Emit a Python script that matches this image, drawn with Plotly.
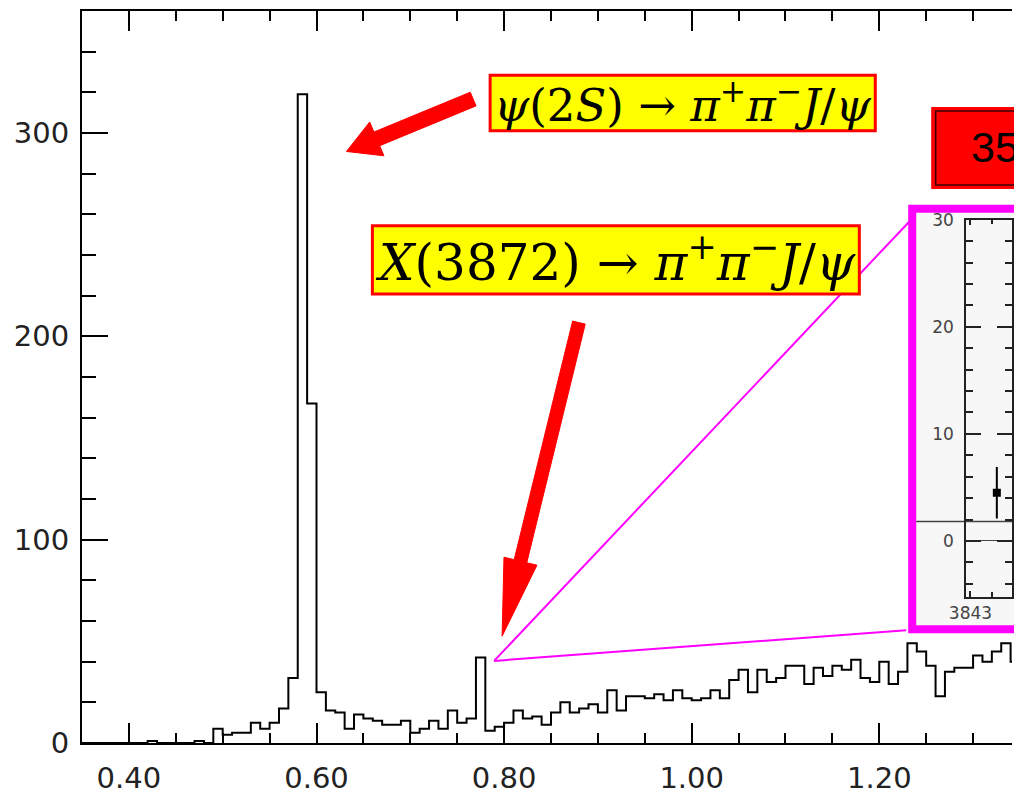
import plotly.graph_objects as go
import numpy as np

# ---------------- data ----------------
bin_start = 0.35
bin_width = 0.01
counts = [0, 0, 0, 0, 0, 0, 0, 1, 0, 0, 0, 0, 1, 0, 7,
          4, 5, 5, 10, 7, 10, 17, 32, 319, 167,
          25, 16, 15, 7, 14, 12, 11, 9, 9, 11,
          5, 7, 11, 7, 16, 10, 12, 42, 6, 8,
          10, 16, 12, 13, 9, 15, 20, 15, 17, 19,
          15, 26, 16, 23, 23, 22, 24, 21, 26, 22,
          21, 22, 26, 22, 31, 36, 25, 36, 30, 32,
          38, 38, 29, 37, 33, 38, 36, 41, 32, 30,
          40, 29, 35, 49, 45, 38, 23, 35, 37, 37,
          43, 40, 45, 49, 40]
x_tick_vals = [0.40, 0.60, 0.80, 1.00, 1.20]
y_tick_vals = [0, 100, 200, 300]

inset_x = [3844.2]
inset_y = [4.5]
inset_err = [2.4]
inset_bkg_level = 1.9

label_psi = "<i>ψ</i>(2<i>S</i>) → <i>π</i><sup>+</sup><i>π</i><sup>−</sup><i>J</i>/<i>ψ</i>"
label_x = "<i>X</i>(3872) → <i>π</i><sup>+</sup><i>π</i><sup>−</sup><i>J</i>/<i>ψ</i>"
label_box = "35"

# ---------------- geometry helpers (pixel -> paper) ----------------
FIG_W, FIG_H = 1014, 795
L, T, W, H = 82, 11, 932, 740
X_LO = 0.35
X_HI = 0.35 + W / 940  # 940 px per unit on the original axis


def px(X):
    return (X - L) / W


def py(Y):
    return (T + H - Y) / H


def arrow_path(tail, tip, shaft_w, head_len, head_w):
    tx, ty = tail
    hx, hy = tip
    d = np.hypot(hx - tx, hy - ty)
    ux, uy = (hx - tx) / d, (hy - ty) / d
    nx, ny = -uy, ux
    bx, by = hx - ux * head_len, hy - uy * head_len
    pts = [
        (tx + nx * shaft_w / 2, ty + ny * shaft_w / 2),
        (bx + nx * shaft_w / 2, by + ny * shaft_w / 2),
        (bx + nx * head_w / 2, by + ny * head_w / 2),
        (hx, hy),
        (bx - nx * head_w / 2, by - ny * head_w / 2),
        (bx - nx * shaft_w / 2, by - ny * shaft_w / 2),
        (tx - nx * shaft_w / 2, ty - ny * shaft_w / 2),
    ]
    return "M " + " L ".join(f"{px(a):.5f},{py(b):.5f}" for a, b in pts) + " Z"


# ---------------- histogram ----------------
edges = [round(bin_start + i * bin_width, 4) for i in range(len(counts) + 1)]
xs = edges
ys = counts + [counts[-1]]

fig = go.Figure()
fig.add_trace(go.Scatter(x=xs, y=ys, mode="lines", line=dict(color="black", width=2, shape="hv"),
                         hoverinfo="skip", showlegend=False))

# inset data
fig.add_trace(go.Scatter(x=inset_x, y=inset_y, mode="markers", xaxis="x2", yaxis="y2",
                         marker=dict(symbol="square", size=8, color="black"),
                         error_y=dict(type="data", array=inset_err, color="black", thickness=2, width=0),
                         showlegend=False, hoverinfo="skip"))

tickfont = dict(family="DejaVu Sans", size=29, color="#222")
insetfont = dict(family="DejaVu Sans", size=17, color="#444")
fig.update_layout(
    width=FIG_W, height=FIG_H,
    margin=dict(l=L, r=0, t=T, b=FIG_H - T - H),
    paper_bgcolor="white", plot_bgcolor="rgba(0,0,0,0)",
    showlegend=False,
    xaxis=dict(range=[X_LO, X_HI], domain=[0, 1], showline=True, linecolor="black", linewidth=2,
               mirror="ticks", ticks="inside", ticklen=20, tickwidth=2, tickcolor="black",
               tickvals=x_tick_vals, ticktext=[f"{v:.2f}" for v in x_tick_vals],
               minor=dict(ticks="inside", ticklen=10, tickwidth=2, dtick=0.05, tick0=0.35, tickcolor="black"),
               showgrid=False, zeroline=False, tickfont=tickfont, ticklabelstandoff=8),
    yaxis=dict(range=[0, 360], domain=[0, 1], showline=True, linecolor="black", linewidth=2,
               mirror=False, ticks="inside", ticklen=26, tickwidth=2, tickcolor="black",
               tickvals=y_tick_vals,
               minor=dict(ticks="inside", ticklen=14, tickwidth=2, dtick=20, tick0=0, tickcolor="black"),
               showgrid=False, zeroline=False, tickfont=tickfont, ticklabelstandoff=5),
    xaxis2=dict(anchor="y2", domain=[px(968), 1], range=[3842.8, 3842.8 + 46 / 22],
                showline=True, linecolor="#222", linewidth=1.5, mirror="ticks",
                ticks="inside", ticklen=6, tickwidth=1.5, tickcolor="#222",
                tickvals=[3843], ticktext=["3843"],
                minor=dict(ticks="inside", ticklen=5, dtick=1, tick0=3843, tickcolor="#222"),
                showgrid=False, zeroline=False,
                tickfont=insetfont, ticklabelstandoff=0),
    yaxis2=dict(anchor="x2", domain=[py(603), py(222)], range=[-5.2, 30],
                showline=True, linecolor="#222", linewidth=1.5, mirror="ticks",
                ticks="inside", ticklen=15, tickwidth=1.5, tickcolor="#222",
                tickvals=[0, 10, 20, 30],
                minor=dict(ticks="inside", ticklen=7, dtick=2, tick0=0, tickcolor="#222"),
                showgrid=False, zeroline=True, zerolinecolor="#444", zerolinewidth=1.2,
                tickfont=insetfont, ticklabelstandoff=7),
)

shapes = []
# inset frame (magenta) with light background
shapes.append(dict(type="rect", xref="paper", yref="paper", x0=px(914), x1=px(1100), y0=py(636), y1=py(211),
                   line=dict(color="#ff00ff", width=8), fillcolor="#f7f7f7", layer="below"))
# background level line in inset
shapes.append(dict(type="line", xref="paper", yref="paper", x0=px(918), x1=px(1100),
                   y0=py(527), y1=py(527), line=dict(color="#444", width=1.5), layer="below"))
# zoom lines from the X(3872) peak to the inset
shapes.append(dict(type="line", xref="paper", yref="paper", x0=px(495), y0=py(668), x1=px(911), y1=py(224),
                   line=dict(color="#ff00ff", width=2), layer="above"))
shapes.append(dict(type="line", xref="paper", yref="paper", x0=px(495), y0=py(668), x1=px(908), y1=py(637),
                   line=dict(color="#ff00ff", width=2), layer="above"))
# label boxes
shapes.append(dict(type="rect", xref="paper", yref="paper", x0=px(491), x1=px(877), y0=py(132), y1=py(76),
                   line=dict(color="#ff0000", width=3), fillcolor="#ffff00", layer="above"))
shapes.append(dict(type="rect", xref="paper", yref="paper", x0=px(373), x1=px(861), y0=py(297), y1=py(228),
                   line=dict(color="#ff0000", width=3), fillcolor="#ffff00", layer="above"))
# red "35" box
shapes.append(dict(type="rect", xref="paper", yref="paper", x0=px(934), x1=px(1100), y0=py(190), y1=py(109),
                   line=dict(color="#ff0000", width=2), fillcolor="#ff0000", layer="above"))
shapes.append(dict(type="rect", xref="paper", yref="paper", x0=px(937.5), x1=px(1100), y0=py(187), y1=py(112),
                   line=dict(color="#3a0000", width=1.5), fillcolor="rgba(0,0,0,0)", layer="above"))
# red arrows
shapes.append(dict(type="path", xref="paper", yref="paper",
                   path=arrow_path((474, 100), (347, 153), 15, 33, 37),
                   fillcolor="#ff0000", line=dict(color="#ff0000", width=1), layer="above"))
shapes.append(dict(type="path", xref="paper", yref="paper",
                   path=arrow_path((580, 326), (503, 643), 13, 78, 34),
                   fillcolor="#ff0000", line=dict(color="#ff0000", width=1), layer="above"))
fig.update_layout(shapes=shapes)

annotations = [
    dict(xref="paper", yref="paper", x=px((491 + 877) / 2), y=py(104), text=label_psi, showarrow=False,
         xanchor="center", yanchor="middle", font=dict(family="DejaVu Serif", size=45, color="black")),
    dict(xref="paper", yref="paper", x=px((373 + 861) / 2), y=py(262), text=label_x, showarrow=False,
         xanchor="center", yanchor="middle", font=dict(family="DejaVu Serif", size=50, color="black")),
    dict(xref="paper", yref="paper", x=px(971), y=py(148), text=label_box, showarrow=False,
         xanchor="left", yanchor="middle", font=dict(family="Liberation Sans", size=43, color="black")),
]
fig.update_layout(annotations=annotations)

fig.write_html("out.html")
